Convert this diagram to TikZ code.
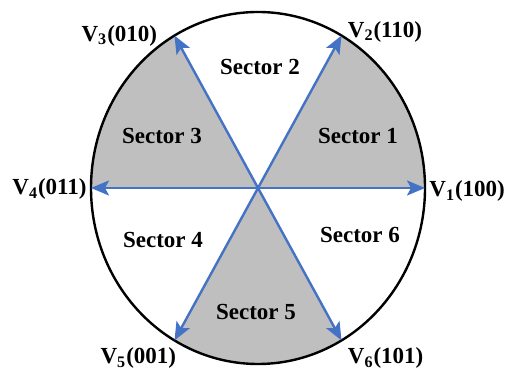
\documentclass[tikz,border=0pt]{standalone}
\usepackage{fontspec}
\setmainfont{Liberation Serif}
\usetikzlibrary{arrows.meta,positioning,calc}

\definecolor{vecblue}{RGB}{68,114,196}

\begin{document}
\begin{tikzpicture}[
  x=0.5pt, y=0.5pt,
  font=\fontsize{11.5}{13}\selectfont\bfseries,
  shade/.style={fill=black!25},
  rim/.style={draw=black, line width=1.2pt},
  vec/.style={-{Stealth[length=9pt,width=7.5pt,inset=2pt]}, draw=vecblue, line width=1.2pt},
  vlabel/.style={inner sep=1pt},
  seclabel/.style={inner sep=0pt}
]
\useasboundingbox (0,0) rectangle (507,368);

\coordinate (O) at (258,180);
\foreach \k in {1,...,6} {
  \coordinate (v\k) at ($(O)+({60*(\k-1)}:167 and 176)$);
}

% shaded sectors 1, 3, 5
\foreach \a/\k in {0/1,120/3,240/5} {
  \fill[shade] (O) -- (v\k) arc[start angle=\a, end angle=\a+60, x radius=167, y radius=176] -- cycle;
}

\draw[rim] (O) ellipse[x radius=167, y radius=176];

\foreach \k in {1,...,6} {
  \draw[vec] (O) -- (v\k);
}

% vector labels
\node[vlabel, right=1pt of v1, yshift=-1.5pt] (l1) {V\textsubscript{1}(100)};
\node[vlabel, right=2pt of v2, yshift=2pt] (l2) {V\textsubscript{2}(110)};
\node[vlabel, left=7.5pt of v3] (l3) {V\textsubscript{3}(010)};
\node[vlabel, left=1pt of v4, yshift=-0.5pt] (l4) {V\textsubscript{4}(011)};
\node[vlabel, below left=2.5pt and -2pt of v5] (l5) {V\textsubscript{5}(001)};
\node[vlabel, below right=2.5pt and 2pt of v6] (l6) {V\textsubscript{6}(101)};

% sector labels
\node[seclabel] (s1) at (358,232) {Sector 1};
\node[seclabel] (s2) at (260,301) {Sector 2};
\node[seclabel] (s3) at (162,232) {Sector 3};
\node[seclabel] (s4) at (163,128) {Sector 4};
\node[seclabel] (s5) at (256,56) {Sector 5};
\node[seclabel] (s6) at (360,133) {Sector 6};

\end{tikzpicture}
\end{document}
